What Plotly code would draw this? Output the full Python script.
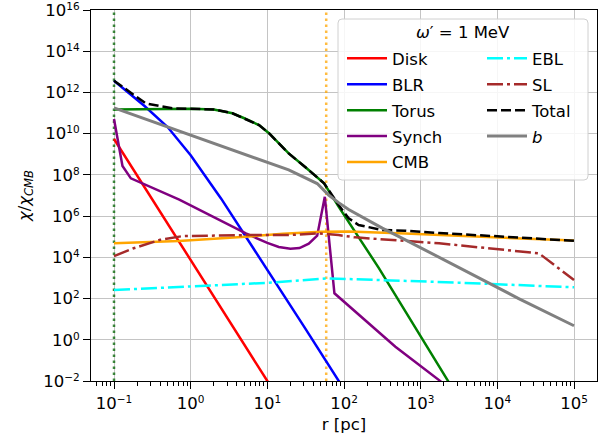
import plotly.graph_objects as go

# ---------------- data ----------------
R_DISK = [0.1, 1, 10, 20]
CHI_DISK = [5.5e9, 7.9e3, 1e-2, 1.5e-4]

R_BLR = [0.1, 0.25, 0.5, 1, 2.5, 8, 30, 100]
CHI_BLR = [3.7e12, 2.2e11, 2.1e10, 9e8, 7e6, 9e3, 4.5, 4e-3]

R_TORUS = [0.1, 0.3, 1, 2, 3.5, 5, 7.8, 10.5, 19, 32, 55, 85, 200, 285, 2240, 3500]
CHI_TORUS = [1.5e11, 1.6e11, 1.6e11, 1.5e11, 9.8e10, 5.6e10, 2.6e10, 1.05e10,
             1.1e9, 2.2e8, 3.9e7, 2.9e6, 2.2e4, 3e3, 1.1e-2, 7e-4]

R_SYNCH = [0.1, 0.129, 0.166, 0.71, 5.25, 10, 14.1, 20, 26.3, 34.7, 44.7, 56.2,
           75, 468, 1740, 2510]
CHI_SYNCH = [5.2e10, 2.7e8, 6.8e7, 6.3e6, 1.45e5, 5e4, 3.2e4, 2.6e4, 2.8e4,
             4.6e4, 1.12e5, 8.7e6, 1.8e2, 0.46, 1.1e-2, 3.5e-3]

R_CMB = [0.1, 0.7, 5.2, 16, 50, 115, 630, 1740, 12600, 1e5]
CHI_CMB = [4.8e4, 6.2e4, 1e5, 1.4e5, 1.74e5, 1.8e5, 1.45e5, 1.2e5, 8.9e4, 6.5e4]

R_EBL = [0.1, 1, 10, 63, 316, 3160, 1e5]
CHI_EBL = [2.6e2, 4e2, 5.8e2, 9.5e2, 7.9e2, 5.9e2, 3.5e2]

R_SL = [0.1, 0.18, 0.4, 0.78, 5.2, 19, 47, 85, 140, 1740, 35000, 1e5]
CHI_SL = [1.15e4, 2.75e4, 7.1e4, 1.07e5, 1.2e5, 1.2e5, 1.45e5, 1.2e5, 9.3e4,
          4.8e4, 1.55e4, 7.9e2]

R_TOTAL = [0.1, 0.26, 0.39, 0.575, 1, 2, 3.5, 5, 7.8, 10.5, 19, 32, 55, 85,
           115, 155, 316, 630, 1740, 12600, 1e5]
CHI_TOTAL = [3.7e12, 2.95e11, 2.2e11, 1.7e11, 1.6e11, 1.5e11, 9.8e10, 5.6e10,
             2.6e10, 1.05e10, 1.1e9, 2.2e8, 3.9e7, 3.5e6, 7.8e5, 3.7e5, 2.1e5,
             1.95e5, 1.5e5, 1e5, 6.3e4]

R_B = [0.1, 0.7, 7.8, 19, 44.7, 63, 85, 115, 234, 316, 631, 19000, 1e5]
CHI_B = [1.8e11, 1.4e10, 5.9e8, 1.74e8, 3.8e7, 1.05e7, 4.5e6, 2.1e6, 4.8e5,
         2.6e5, 7.1e4, 1.0e2, 4.8]

VLINE_X = [0.1, 58.6]
VLINE_COLORS = ["rgba(0,100,0,0.75)", "rgba(255,165,0,0.75)"]

X_TICKVALS = [0.1, 1, 10, 100, 1000, 10000, 100000]
X_TICK_EXP = ["\u22121", "0", "1", "2", "3", "4", "5"]
Y_TICKVALS = [1e-2, 1e0, 1e2, 1e4, 1e6, 1e8, 1e10, 1e12, 1e14, 1e16]
Y_TICK_EXP = ["\u22122", "0", "2", "4", "6", "8", "10", "12", "14", "16"]

# ---------------- figure ----------------
W, H = 611, 440
ML, MR, MT, MB = 91, 14, 10, 59
PW, PH = W - ML - MR, H - MT - MB
FONT = "DejaVu Sans"
FS = 16.5


def pow_label(e):
    return ("10<span style='font-size:10.5px;baseline-shift:6.5px'>%s</span>" % e)


fig = go.Figure()

for xv, col in zip(VLINE_X, VLINE_COLORS):
    fig.add_trace(go.Scatter(x=[xv, xv], y=[1e-2, 1e16], mode="lines",
                             line=dict(color=col, width=2.5, dash="2.5px,3.5px"),
                             showlegend=False, hoverinfo="skip"))

series = [
    ("Disk", R_DISK, CHI_DISK, "#ff0000", "solid", 2.5, "legend"),
    ("BLR", R_BLR, CHI_BLR, "#0000ff", "solid", 2.5, "legend"),
    ("Torus", R_TORUS, CHI_TORUS, "#008000", "solid", 2.5, "legend"),
    ("Synch", R_SYNCH, CHI_SYNCH, "#800080", "solid", 2.5, "legend"),
    ("CMB", R_CMB, CHI_CMB, "#ffa500", "solid", 2.5, "legend"),
    ("EBL", R_EBL, CHI_EBL, "#00ffff", "16px,4px,3px,4px", 2.5, "legend2"),
    ("SL", R_SL, CHI_SL, "#a52a2a", "16px,4px,3px,4px", 2.5, "legend2"),
    ("Total", R_TOTAL, CHI_TOTAL, "#000000", "10px,4px", 2.5, "legend2"),
    ("<i>b</i>", R_B, CHI_B, "#808080", "solid", 3, "legend2"),
]
for i, (name, xs, ys, col, dash, lw, lg) in enumerate(series):
    fig.add_trace(go.Scatter(x=xs, y=ys, mode="lines", name=name,
                             line=dict(color=col, width=lw, dash=dash),
                             legend=lg, legendgroup="g%d" % i))

axis_common = dict(type="log", showline=True, linecolor="black", linewidth=1,
                   mirror=True, ticks="outside", ticklen=7, tickwidth=1,
                   tickcolor="black", showgrid=True, gridcolor="#c4c4c4",
                   gridwidth=1, zeroline=False, automargin=False,
                   ticklabeloverflow="allow",
                   tickfont=dict(family=FONT, size=FS, color="black"))

minor_vals = [k * 10 ** e for e in range(-2, 6) for k in range(2, 10)]

fig.update_xaxes(**axis_common, range=[-1.3, 5.3], tickmode="array",
                 tickvals=X_TICKVALS, ticktext=[pow_label(e) for e in X_TICK_EXP],
                 minor=dict(tickmode="array", tickvals=minor_vals, ticks="outside",
                            ticklen=4, tickwidth=1, tickcolor="black", showgrid=False),
                 title=dict(text="r [pc]", font=dict(family=FONT, size=FS, color="black"),
                            standoff=6))
fig.update_yaxes(**axis_common, range=[-2.0001, 16.0001], tickmode="array",
                 tickvals=Y_TICKVALS, ticktext=[pow_label(e) for e in Y_TICK_EXP],
                 title=dict(text="<i>\u03c7</i>/<i>\u03c7</i><sub><i>CMB</i></sub>",
                            font=dict(family=FONT, size=FS, color="black"),
                            standoff=8))


def px_x(p):
    return (p - ML) / PW


def px_y(p):
    return (H - MB - p) / PH


# legend box (rounded)
bx0, bx1, by0, by1 = 338, 588, 19, 180
r = 4
X0, X1 = px_x(bx0), px_x(bx1)
Y0, Y1 = px_y(by1), px_y(by0)
rx, ry = r / PW, r / PH
path = (f"M{X0+rx},{Y0} L{X1-rx},{Y0} Q{X1},{Y0} {X1},{Y0+ry} "
        f"L{X1},{Y1-ry} Q{X1},{Y1} {X1-rx},{Y1} L{X0+rx},{Y1} "
        f"Q{X0},{Y1} {X0},{Y1-ry} L{X0},{Y0+ry} Q{X0},{Y0} {X0+rx},{Y0} Z")
fig.add_shape(type="path", path=path, xref="paper", yref="paper",
              fillcolor="rgba(255,255,255,0.85)", line=dict(color="#d0d0d0", width=1),
              layer="above")

fig.add_annotation(x=px_x((bx0 + bx1) / 2), y=px_y(33), xref="paper", yref="paper",
                   text="<i>\u03c9</i>\u2032 = 1 MeV", showarrow=False,
                   xanchor="center", yanchor="middle",
                   font=dict(family=FONT, size=FS, color="black"))

leg_common = dict(bgcolor="rgba(0,0,0,0)", borderwidth=0, itemwidth=40,
                  tracegroupgap=1.5, traceorder="grouped", yanchor="top",
                  xanchor="left", font=dict(family=FONT, size=FS, color="black"))

fig.update_layout(
    width=W, height=H,
    margin=dict(l=ML, r=MR, t=MT, b=MB, autoexpand=False),
    paper_bgcolor="white", plot_bgcolor="white",
    font=dict(family=FONT, size=FS, color="black"),
    legend=dict(**leg_common, x=px_x(342), y=px_y(41)),
    legend2=dict(**leg_common, x=px_x(482), y=px_y(41)),
    showlegend=True,
)

fig.write_html("out.html",
               config={"displayModeBar": False},
               post_script="document.body.style.margin='0px';"
                           "document.body.style.overflow='hidden';")
